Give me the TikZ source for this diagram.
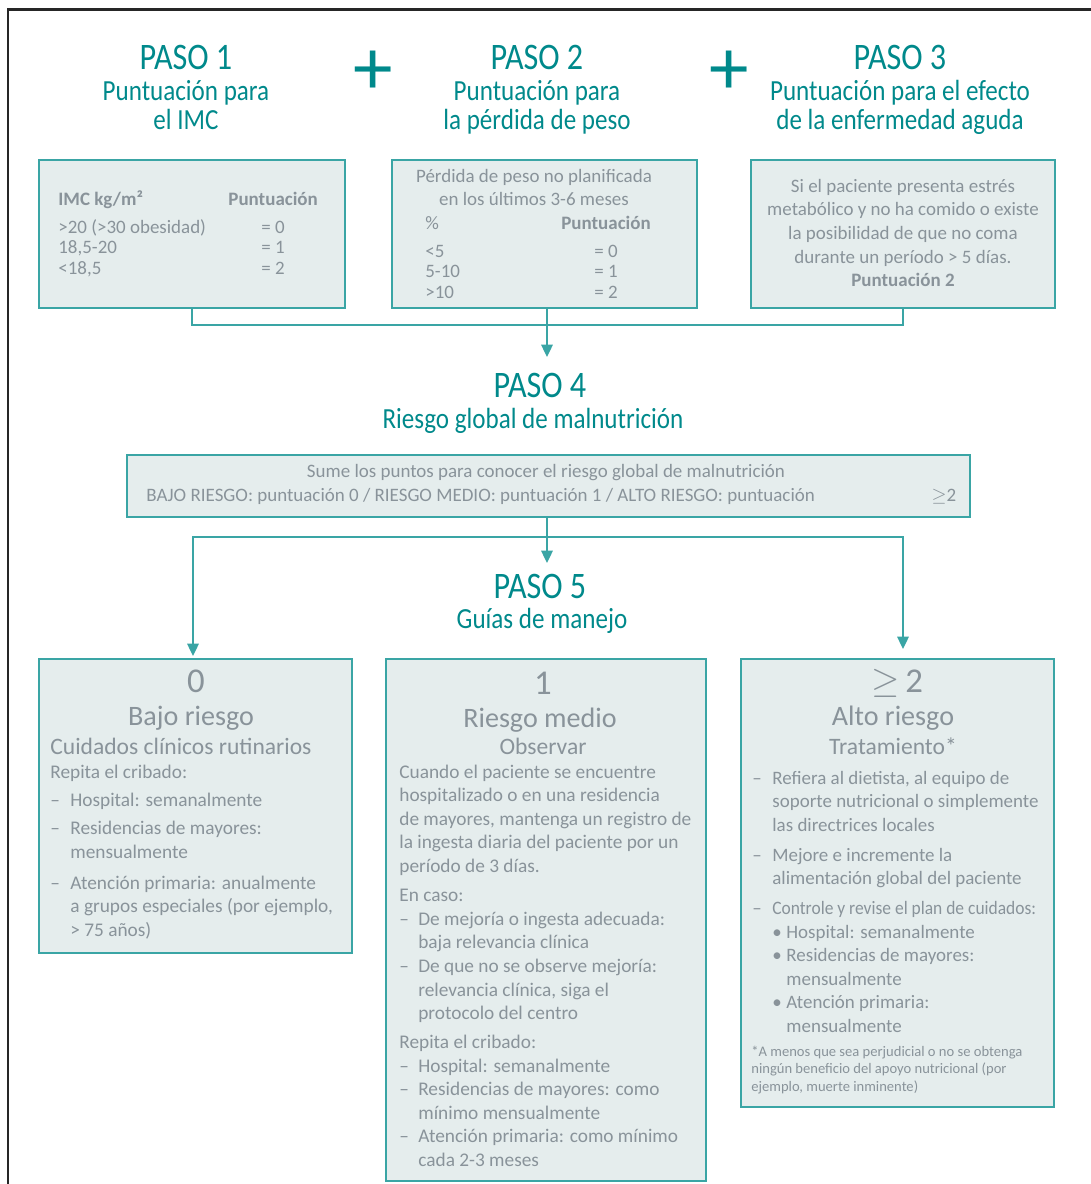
\documentclass[tikz,border=0pt]{standalone}
\usepackage{fontspec}
\usepackage{graphicx}
\setmainfont{Carlito}
\newfontfamily\condfont[FakeStretch=0.86]{Carlito}
\usetikzlibrary{arrows.meta,positioning,fit,calc}
\definecolor{cteal}{HTML}{00898B}
\definecolor{cline}{HTML}{3AA5A5}
\definecolor{cfill}{HTML}{E5EDED}
\definecolor{ctext}{HTML}{89939A}
\newcommand\fullrow[1]{\multicolumn{2}{@{}l@{}}{#1}}
\tikzset{
  panel/.style={draw=cline, fill=cfill, line width=1.1pt, inner sep=0pt},
  steptitle/.style={text=cteal, inner sep=0pt, anchor=base,
                    font=\condfont\fontsize{21.3}{24}\selectfont},
  stepsub/.style={text=cteal, inner sep=0pt, anchor=base,
                  font=\condfont\fontsize{16.6}{17.07}\selectfont},
  plus/.style={text=cteal, inner sep=0pt, font=\fontsize{45}{45}\selectfont},
  tabtxt/.style={text=ctext, inner sep=0pt, anchor=base west,
                 font=\fontsize{10.8}{11.67}\selectfont},
  midtxt/.style={text=ctext, inner sep=0pt, anchor=base,
                 font=\fontsize{10.8}{13.5}\selectfont},
  listtxt/.style={text=ctext, inner sep=0pt, anchor=base west,
                  font=\fontsize{11}{13.4}\selectfont},
  risknum/.style={text=ctext, inner sep=0pt, anchor=base,
                  font=\fontsize{19.8}{22}\selectfont},
  risktit/.style={text=ctext, inner sep=0pt, anchor=base,
                  font=\fontsize{16}{18}\selectfont},
  risksub/.style={text=ctext, inner sep=0pt, anchor=base,
                  font=\fontsize{13.4}{15}\selectfont},
  link/.style={draw=cline, line width=1.1pt},
  flow/.style={link, -{Triangle[length=7pt,width=6.5pt]}},
}
\begin{document}
\begin{tikzpicture}[x=0.02cm, y=-0.02cm]
  \useasboundingbox (0,0) rectangle (1091,1184);
  \draw[line width=1.4pt, black!85] (8,1184) -- (8,9.5) -- (1091,9.5);

  % pasos 1-3
  \node[steptitle] (paso1) at (186,69) {PASO 1};
  \node[stepsub] (paso1sub) at (186,100) {\begin{tabular}[t]{@{}c@{}}Puntuación para\\el IMC\end{tabular}};
  \node[plus] (plusa) at (373,73) {+};
  \node[steptitle] (paso2) at (537,69) {PASO 2};
  \node[stepsub] (paso2sub) at (537,100) {\begin{tabular}[t]{@{}c@{}}Puntuación para\\la pérdida de peso\end{tabular}};
  \node[plus] (plusb) at (729,73) {+};
  \node[steptitle] (paso3) at (900,69) {PASO 3};
  \node[stepsub] (paso3sub) at (900,100) {\begin{tabular}[t]{@{}c@{}}Puntuación para el efecto\\de la enfermedad aguda\end{tabular}};

  \node[panel, fit={(39,160) (345,308)}] (imc) {};
  \node[tabtxt] (imctxt) at (58,205) {\begin{tabular}[t]{@{}p{96.8pt}@{}c@{}}
    \textbf{IMC kg/m²} & \textbf{Puntuación}\\[4.3pt]
    >20 (>30 obesidad) & = 0\\
    18,5-20 & = 1\\
    <18,5 & = 2
  \end{tabular}};

  \node[panel, fit={(392,160) (697,308)}] (perd) {};
  \node[midtxt] (perdhead) at (534,182) {\begin{tabular}[t]{@{}c@{}}Pérdida de peso no planificada\\en los últimos 3-6 meses\end{tabular}};
  \node[tabtxt] (perdtab) at (425,229) {\begin{tabular}[t]{@{}p{77.4pt}@{}c@{}}
    \% & \textbf{Puntuación}\\[4.3pt]
    <5 & = 0\\
    5-10 & = 1\\
    >10 & = 2
  \end{tabular}};

  \node[panel, fit={(751,160) (1055,308)}] (agud) {};
  \node[midtxt] (agudtxt) at (903,192) {\begin{tabular}[t]{@{}c@{}}
    Si el paciente presenta estrés\\
    metabólico y no ha comido o existe\\
    la posibilidad de que no coma\\
    durante un período > 5 días.\\
    \textbf{Puntuación 2}
  \end{tabular}};

  \coordinate (j1) at (547,325);
  \coordinate (a4) at (547,357);
  \draw[link] (imc.south) |- (j1) -| (agud.south);
  \draw[flow] (j1 |- perd.south) -- (a4);

  % paso 4
  \node[steptitle] (paso4) at (540,397) {PASO 4};
  \node[stepsub] (paso4sub) at (533,428) {Riesgo global de malnutrición};
  \node[panel, fit={(127,455) (970,517)}] (glob) {};
  \node[midtxt] (globtxt1) at (546,477) {Sume los puntos para conocer el riesgo global de malnutrición};
  \node[tabtxt] (globtxt2) at (146,501) {\makebox[447pt][l]{BAJO RIESGO: puntuación 0 / RIESGO MEDIO: puntuación 1 / ALTO RIESGO: puntuación}$\geq$2};

  \coordinate (j2) at (547,537);
  \coordinate (a5) at (547,563);
  \coordinate (t0) at (193,656);
  \coordinate (t2) at (903,649);
  \draw[link] (j2 |- glob.south) -- (j2);
  \draw[flow] (j2) -- (a5);
  \draw[flow] (j2) -| (t0);
  \draw[flow] (j2) -| (t2);

  % paso 5
  \node[steptitle] (paso5) at (540,598) {PASO 5};
  \node[stepsub] (paso5sub) at (542,628) {Guías de manejo};

  \node[panel, fit={(39,659) (352,953)}] (bajo) {};
  \node[risknum] (bajonum) at (196,692) {0};
  \node[risktit] (bajotit) at (191,725) {Bajo riesgo};
  \node[risksub] (bajosub) at (181,754) {Cuidados clínicos rutinarios};
  \node[listtxt] (bajotxt) at (50,778) {\begin{tabular}[t]{@{}p{11.4pt}@{}l@{}}
    \fullrow{Repita el cribado:}\\[2.8pt]
    – & Hospital: semanalmente\\[2.8pt]
    – & Residencias de mayores:\\
      & mensualmente\\[4pt]
    – & Atención primaria: anualmente\\
      & a grupos especiales (por ejemplo,\\
      & > 75 años)
  \end{tabular}};

  \node[panel, fit={(386,659) (706,1181)}] (medio) {};
  \node[risknum] (medionum) at (543,694) {1};
  \node[risktit] (mediotit) at (540,727) {Riesgo medio};
  \node[risksub] (mediosub) at (543,754) {Observar};
  \node[listtxt] (mediotxt) at (399,778) {\begin{tabular}[t]{@{}p{10.8pt}@{}l@{}}
    \fullrow{Cuando el paciente se encuentre}\\
    \fullrow{hospitalizado o en una residencia}\\
    \fullrow{de mayores, mantenga un registro de}\\
    \fullrow{la ingesta diaria del paciente por un}\\
    \fullrow{período de 3 días.}\\[3.5pt]
    \fullrow{En caso:}\\
    – & De mejoría o ingesta adecuada:\\
      & baja relevancia clínica\\
    – & De que no se observe mejoría:\\
      & relevancia clínica, siga el\\
      & protocolo del centro\\[3.2pt]
    \fullrow{Repita el cribado:}\\
    – & Hospital: semanalmente\\
    – & Residencias de mayores: como\\
      & mínimo mensualmente\\
    – & Atención primaria: como mínimo\\
      & cada 2-3 meses
  \end{tabular}};

  \node[panel, fit={(741,659) (1054,1107)}] (alto) {};
  \node[risknum] (altonum) at (897,692) {$\geq$\,2};
  \node[risktit] (altotit) at (893,725) {Alto riesgo};
  \node[risksub] (altosub) at (893,754) {Tratamiento*};
  \node[listtxt, font=\fontsize{10.8}{13.4}\selectfont] (altotxt) at (752,784) {\begin{tabular}[t]{@{}p{11.4pt}@{}l@{}}
    – & Refiera al dietista, al equipo de\\
      & soporte nutricional o simplemente\\
      & las directrices locales\\[3.7pt]
    – & Mejore e incremente la\\
      & alimentación global del paciente\\[3.7pt]
    – & \scalebox{0.92}[1]{Controle y revise el plan de cuidados:}\\
      & \makebox[8pt][l]{\textbullet}Hospital: semanalmente\\
      & \makebox[8pt][l]{\textbullet}Residencias de mayores:\\
      & \hspace{8pt}mensualmente\\
      & \makebox[8pt][l]{\textbullet}Atención primaria:\\
      & \hspace{8pt}mensualmente
  \end{tabular}};
  \node[tabtxt, font=\fontsize{8.3}{10}\selectfont] (altonota) at (751,1056) {\begin{tabular}[t]{@{}l@{}}
    *A menos que sea perjudicial o no se obtenga\\
    ningún beneficio del apoyo nutricional (por\\
    ejemplo, muerte inminente)
  \end{tabular}};
\end{tikzpicture}
\end{document}
